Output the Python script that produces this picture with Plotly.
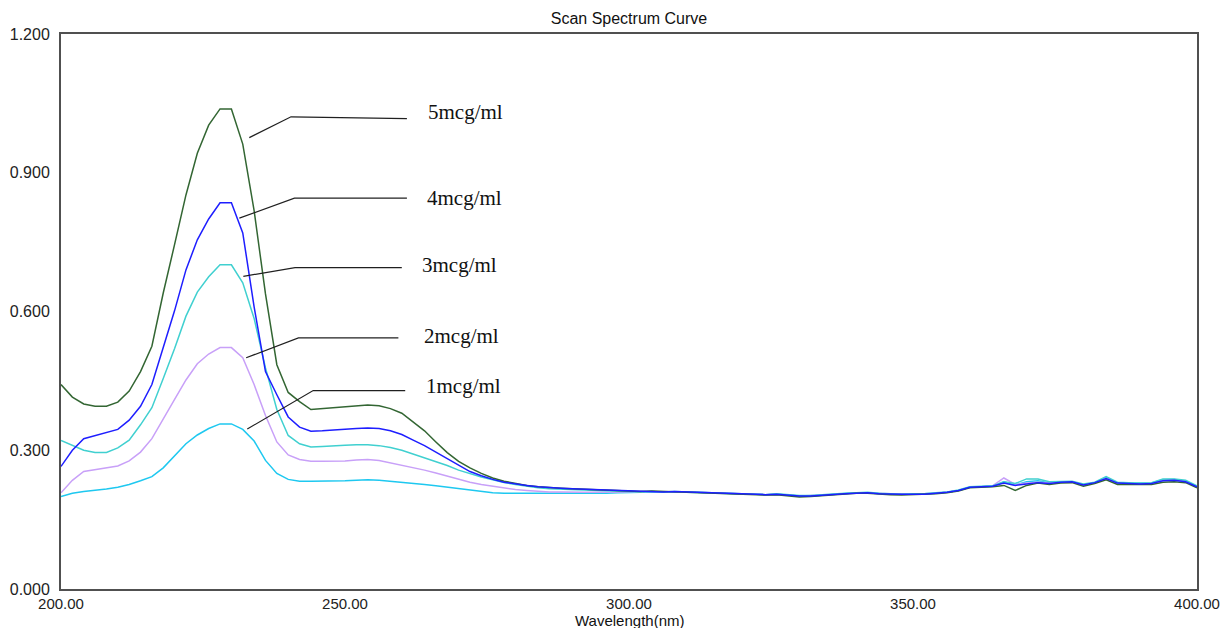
import plotly.graph_objects as go

wavelength = list(range(200, 401, 2))

conc_5 = [0.442,0.415,0.400,0.395,0.395,0.404,0.428,0.470,0.525,0.640,0.745,0.852,0.942,1.003,1.038,1.038,0.962,0.818,0.638,0.485,0.425,0.405,0.388,0.390,0.392,0.394,0.396,0.398,0.396,0.390,0.380,0.362,0.342,0.318,0.295,0.276,0.262,0.250,0.240,0.233,0.228,0.224,0.221,0.219,0.218,
          0.217,0.216,0.215,0.214,0.213,0.212,0.211,0.212,0.211,0.211,
          0.210,0.209,0.208,0.207,0.206,0.205,0.204,0.203,0.204,0.202,
          0.199,0.200,0.202,0.204,0.205,0.207,0.207,0.205,0.204,0.203,
          0.204,0.204,0.206,0.208,0.212,0.219,0.220,0.221,0.224,0.213,
          0.224,0.229,0.226,0.229,0.230,0.222,0.228,0.236,0.226,0.226,
          0.225,0.226,0.231,0.232,0.230,0.219]

conc_4 = [0.265,0.300,0.325,0.332,0.338,0.345,0.365,0.395,0.442,0.520,0.602,0.690,0.755,0.800,0.835,0.835,0.770,0.610,0.470,0.420,0.372,0.350,0.341,0.342,0.344,0.346,0.347,0.348,0.347,0.342,0.334,0.322,0.310,0.296,0.282,0.267,0.254,0.245,0.237,0.231,0.227,0.224,0.221,0.219,0.218,
          0.217,0.216,0.215,0.214,0.213,0.212,0.211,0.211,0.210,0.211,
          0.210,0.209,0.208,0.207,0.206,0.205,0.204,0.204,0.205,0.203,
          0.201,0.201,0.203,0.205,0.206,0.207,0.208,0.206,0.205,0.205,
          0.205,0.205,0.207,0.209,0.213,0.220,0.221,0.222,0.229,0.224,
          0.227,0.230,0.228,0.231,0.232,0.225,0.230,0.239,0.229,0.228,
          0.227,0.228,0.234,0.235,0.232,0.221]

conc_3 = [0.321,0.310,0.300,0.295,0.295,0.305,0.322,0.355,0.392,0.455,0.520,0.590,0.642,0.675,0.701,0.701,0.662,0.585,0.478,0.388,0.332,0.314,0.307,0.308,0.310,0.311,0.312,0.312,0.310,0.306,0.300,0.292,0.284,0.276,0.267,0.257,0.249,0.242,0.236,0.230,0.226,0.222,0.219,0.217,0.216,
          0.215,0.214,0.213,0.212,0.211,0.210,0.210,0.211,0.210,0.211,
          0.210,0.209,0.208,0.208,0.206,0.206,0.205,0.204,0.206,0.204,
          0.202,0.202,0.204,0.205,0.207,0.208,0.209,0.207,0.206,0.205,
          0.206,0.206,0.208,0.210,0.214,0.221,0.222,0.223,0.232,0.228,
          0.238,0.238,0.232,0.232,0.233,0.227,0.231,0.243,0.231,0.230,
          0.229,0.230,0.238,0.238,0.235,0.223]

conc_2 = [0.208,0.235,0.254,0.258,0.262,0.266,0.277,0.296,0.325,0.366,0.410,0.452,0.487,0.508,0.522,0.522,0.500,0.442,0.375,0.318,0.290,0.280,0.276,0.276,0.276,0.277,0.279,0.280,0.278,0.273,0.268,0.263,0.257,0.251,0.244,0.237,0.231,0.226,0.222,0.218,0.215,0.213,0.211,0.210,0.210,
          0.209,0.209,0.209,0.209,0.210,0.210,0.210,0.211,0.210,0.210,
          0.209,0.209,0.208,0.207,0.206,0.205,0.205,0.204,0.205,0.203,
          0.201,0.202,0.203,0.205,0.206,0.208,0.208,0.207,0.206,0.205,
          0.205,0.206,0.208,0.209,0.213,0.220,0.221,0.223,0.240,0.226,
          0.229,0.231,0.229,0.231,0.232,0.226,0.230,0.240,0.229,0.228,
          0.227,0.229,0.235,0.236,0.233,0.221]

conc_1 = [0.200,0.207,0.211,0.213,0.216,0.220,0.226,0.234,0.243,0.262,0.288,0.314,0.333,0.347,0.357,0.357,0.345,0.320,0.278,0.250,0.237,0.233,0.233,0.233,0.233,0.234,0.235,0.236,0.235,0.233,0.230,0.228,0.226,0.223,0.220,0.217,0.214,0.211,0.208,0.207,0.207,0.206,0.206,0.206,0.206,
          0.206,0.207,0.207,0.207,0.208,0.209,0.209,0.210,0.209,0.210,
          0.209,0.209,0.208,0.207,0.206,0.205,0.204,0.204,0.205,0.203,
          0.201,0.201,0.203,0.205,0.206,0.208,0.208,0.206,0.205,0.205,
          0.205,0.206,0.207,0.209,0.213,0.220,0.221,0.222,0.232,0.225,
          0.232,0.234,0.229,0.231,0.232,0.225,0.230,0.241,0.229,0.228,
          0.228,0.229,0.236,0.237,0.233,0.222]

series_names = ["1mcg/ml", "2mcg/ml", "3mcg/ml", "5mcg/ml", "4mcg/ml"]
series_values = [conc_1, conc_2, conc_3, conc_5, conc_4]
series_colors = ["#1EC8F0", "#C8A0F8", "#40D0D0", "#336633", "#1E1EFF"]

# label annotations (text, text-left x, text y, leader start, knee, end)
label_text = ["5mcg/ml", "4mcg/ml", "3mcg/ml", "2mcg/ml", "1mcg/ml"]
label_x = [264.3, 264.1, 263.2, 263.5, 263.9]
label_y = [1.031, 0.845, 0.701, 0.548, 0.438]
leader_start = [(233.15, 0.976), (231.4, 0.802), (232.1, 0.676), (232.6, 0.500), (232.8, 0.346)]
leader_knee = [(240.5, 1.021), (241.1, 0.845), (241.2, 0.695), (241.8, 0.543), (244.4, 0.429)]
leader_end = [(260.9, 1.017), (260.9, 0.845), (260.0, 0.695), (259.4, 0.543), (260.6, 0.429)]

x_ticks = [200, 250, 300, 350, 400]
y_ticks = [0.0, 0.3, 0.6, 0.9, 1.2]
x_title = "Wavelength(nm)"

fig = go.Figure()
for name, vals, col in zip(series_names, series_values, series_colors):
    fig.add_trace(go.Scatter(x=wavelength, y=vals, mode="lines", name=name,
                             line=dict(color=col, width=1.5, shape="linear"),
                             showlegend=False))

for s, k, e in zip(leader_start, leader_knee, leader_end):
    fig.add_shape(type="path", xref="x", yref="y",
                  path=f"M {s[0]},{s[1]} L {k[0]},{k[1]} L {e[0]},{e[1]}",
                  line=dict(color="#202020", width=1.2))

for t, x, y in zip(label_text, label_x, label_y):
    fig.add_annotation(x=x, y=y, xref="x", yref="y", text=t, showarrow=False,
                       xanchor="left", yanchor="middle",
                       font=dict(family="Liberation Serif, Times New Roman, serif", size=21, color="#111"))

axis_font = dict(family="Liberation Sans, Arial, sans-serif", size=16, color="#222")
xtick_font = dict(family="Liberation Sans, Arial, sans-serif", size=15, color="#222")
title_font = dict(family="Liberation Sans, Arial, sans-serif", size=16, color="#111")

# x-axis title placed just below the tick labels
fig.add_annotation(x=0.5, y=0, xref="paper", yref="paper", text=x_title, showarrow=False,
                   xanchor="center", yanchor="middle", yshift=-31,
                   font=dict(family="Liberation Sans, Arial, sans-serif", size=15, color="#111"))

fig.update_layout(
    width=1225, height=628,
    margin=dict(l=61, r=28, t=34, b=39, autoexpand=False),
    paper_bgcolor="white", plot_bgcolor="white",
    title=dict(text="Scan Spectrum Curve", x=0.5, xref="paper", y=1 - 18 / 628,
               yref="container", xanchor="center", yanchor="middle", font=title_font),
    xaxis=dict(range=[200, 400], tickvals=x_ticks, ticktext=[f"{v:.2f}" for v in x_ticks],
               showgrid=False, zeroline=False, showline=True, mirror=True,
               linecolor="#505050", linewidth=2, ticks="", tickfont=xtick_font,
               ticklabelstandoff=0, automargin=False),
    yaxis=dict(range=[0, 1.2], tickvals=y_ticks, ticktext=[f"{v:.3f}" for v in y_ticks],
               showgrid=False, zeroline=False, showline=True, mirror=True,
               linecolor="#505050", linewidth=2, ticks="", tickfont=axis_font,
               ticklabelstandoff=6, automargin=False),
)

fig.write_html("out.html")
